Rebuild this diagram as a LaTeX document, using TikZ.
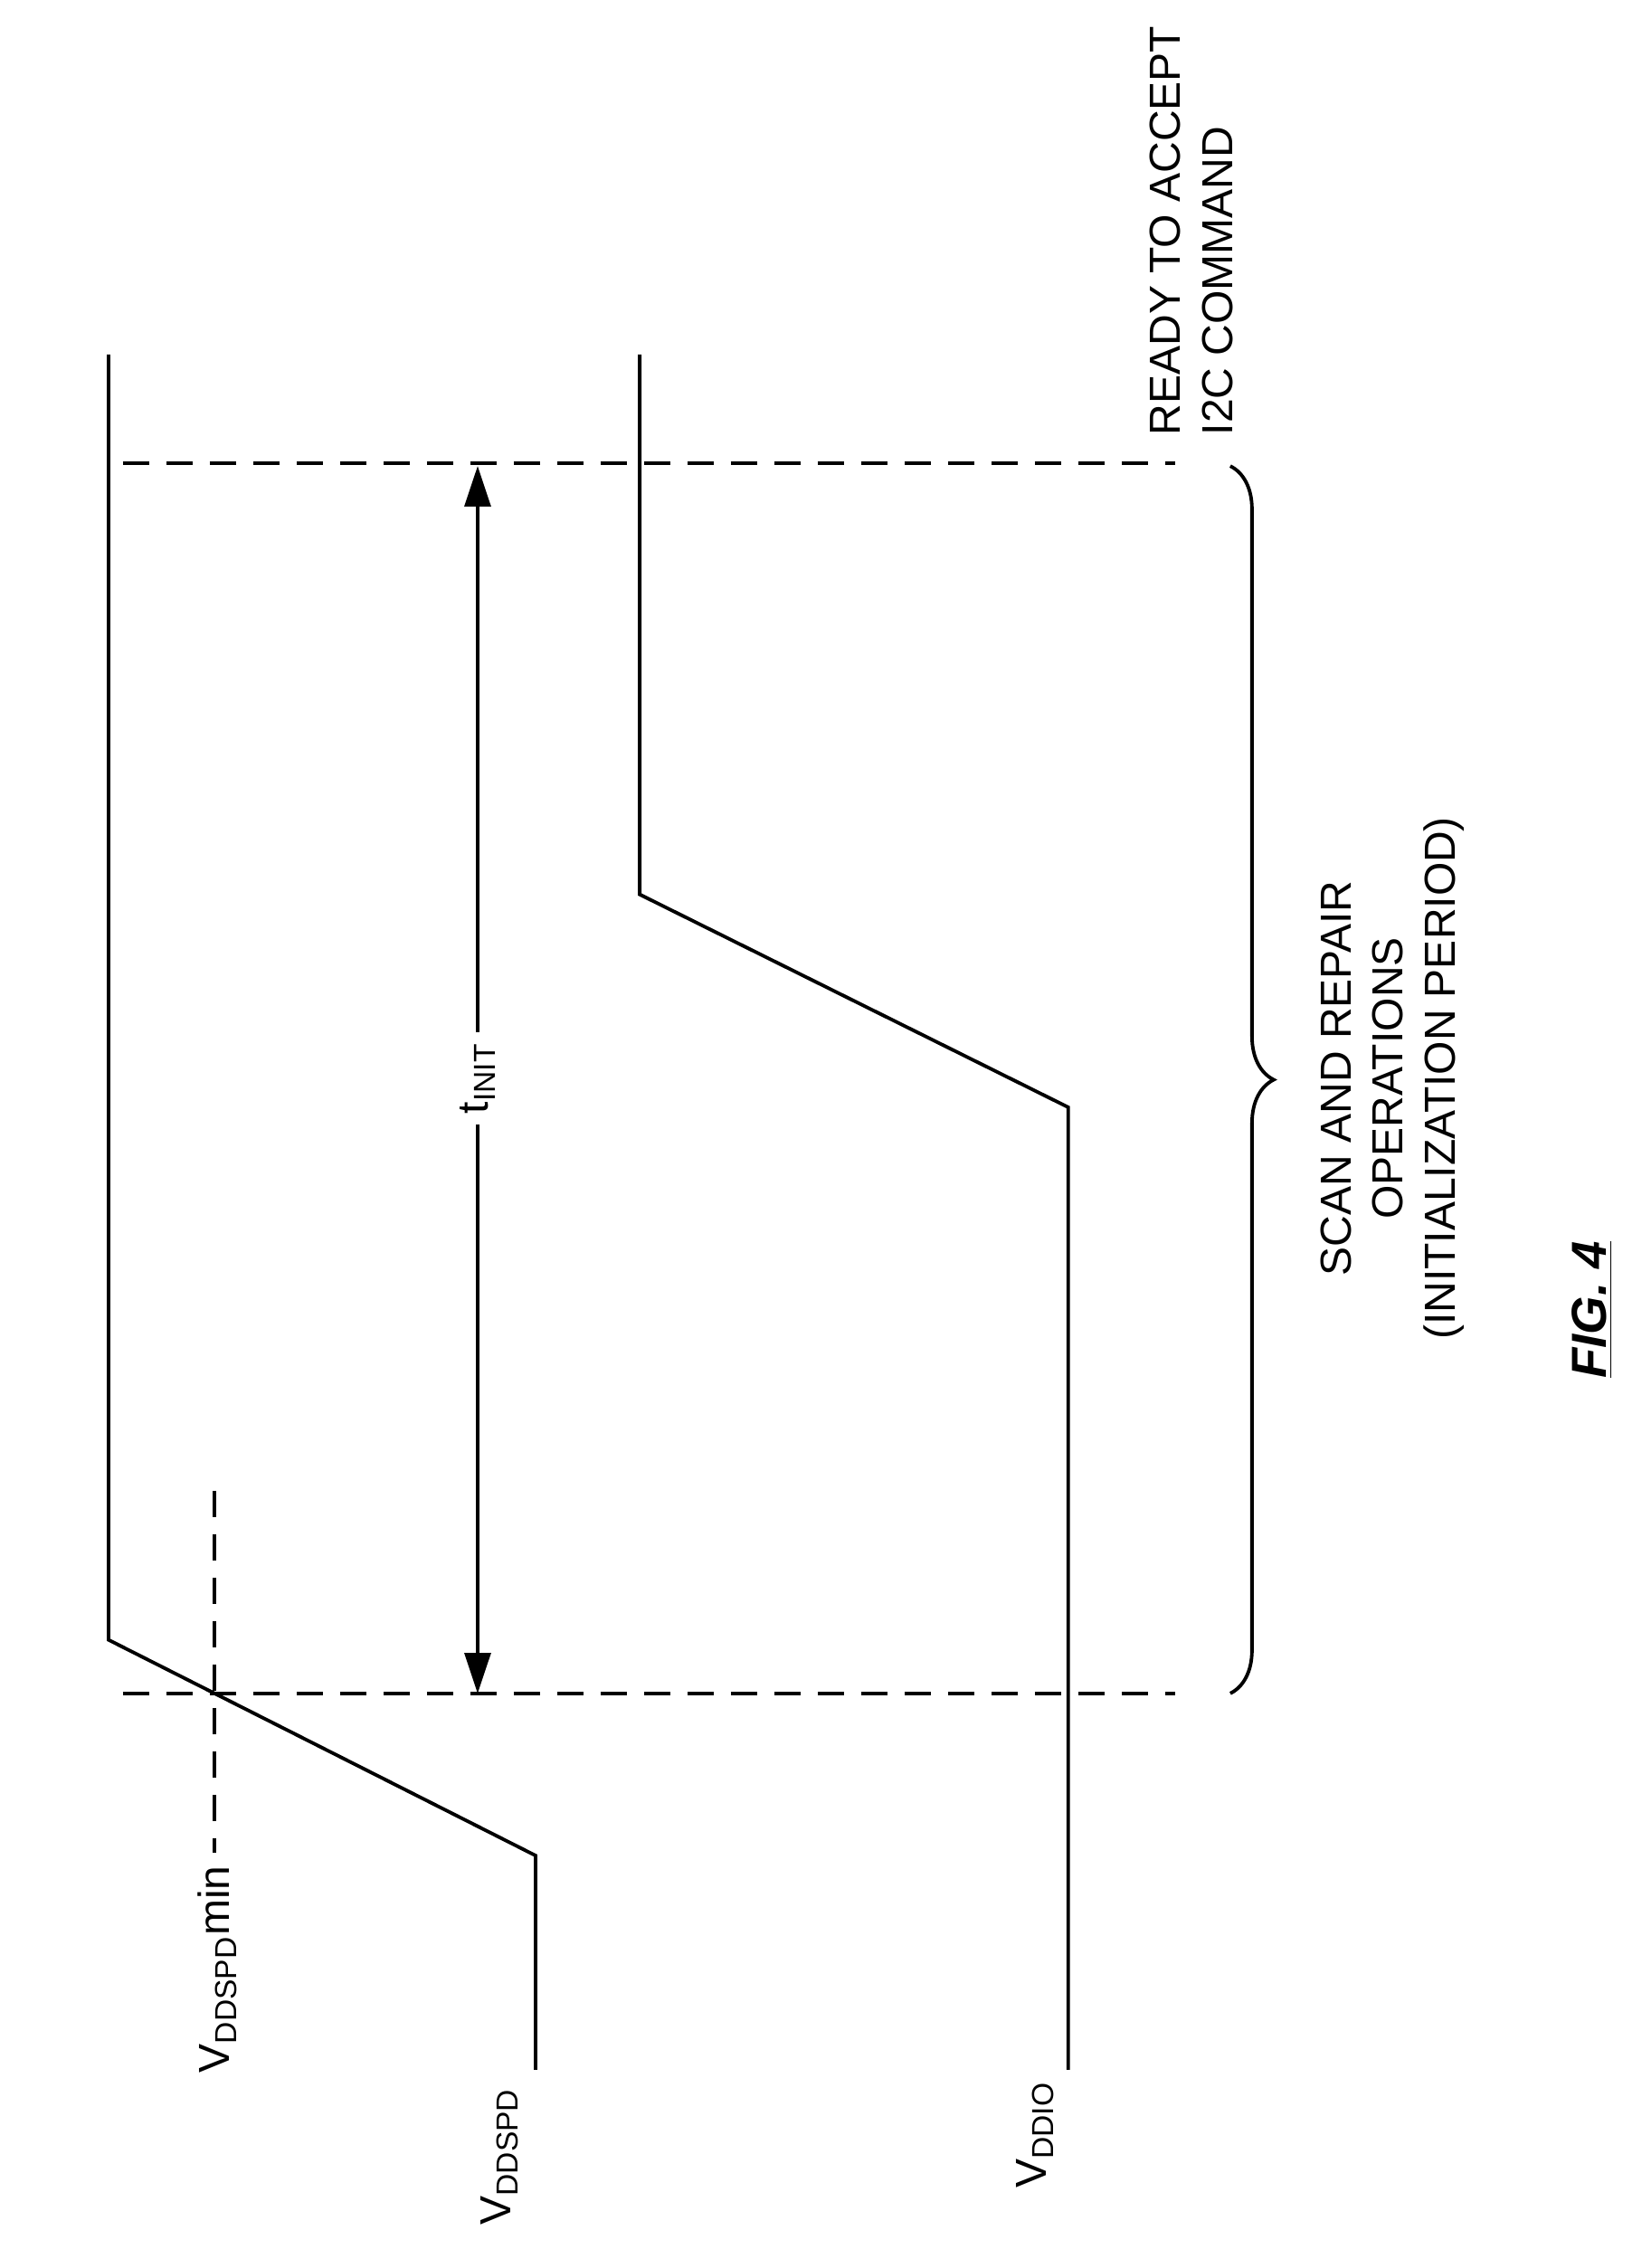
\documentclass[tikz,border=0pt]{standalone}
\usepackage{fontspec}
\setmainfont{Liberation Sans}
\usetikzlibrary{arrows.meta,decorations.pathreplacing}
\begin{document}
\begin{tikzpicture}[x=0.5pt,y=-0.5pt,line width=1.2pt,
  dsh/.style={dashed,dash pattern=on 9pt off 6pt},
  lbl/.style={rotate=90,font=\fontsize{15}{18}\selectfont,inner sep=0pt}]
\useasboundingbox (0,0) rectangle (1134,1567);
% signals
\coordinate (s0) at (370,1430); \coordinate (s1) at (370,1282);
\coordinate (s2) at (75,1133); \coordinate (s3) at (75,245);
\draw (s0)--(s1)--(s2)--(s3);
\coordinate (i0) at (738,1430); \coordinate (i1) at (738,765);
\coordinate (i2) at (442,618); \coordinate (i3) at (442,245);
\draw (i0)--(i1)--(i2)--(i3);
% dashed lines
\coordinate (d1a) at (85,1170); \coordinate (d1b) at (812,1170);
\coordinate (d2a) at (85,320); \coordinate (d2b) at (812,320);
\draw[dsh] (d1a)--(d1b);
\draw[dsh] (d2a)--(d2b);
\coordinate (m0) at (148,1030); \coordinate (m1) at (148,1280);
\draw[dsh] (m0)--(m1);
% tINIT arrow
\node[lbl,fill=white,inner sep=3pt] (t) at (330,745) {t\textsubscript{INIT}};
\coordinate (a0) at (330,322); \coordinate (a1) at (330,1170);
\draw[-{Triangle[length=14pt,width=9pt]}] (t.east)--(a0);
\draw[-{Triangle[length=14pt,width=9pt]}] (t.west)--(a1);
% brace
\coordinate (b0) at (850,322); \coordinate (b1) at (850,1170);
\draw[decorate,decoration={brace,amplitude=15pt}] (b0)--(b1);
% labels
\node[lbl,align=center] (scan) at (962,745) {SCAN AND REPAIR\\OPERATIONS\\(INITIALIZATION PERIOD)};
\node[lbl,align=left,anchor=south west] (ready) at (853,302) {READY TO ACCEPT\\I2C COMMAND};
\node[lbl,anchor=east] (vmin) at (150,1288) {V\textsubscript{DDSPD}min};
\node[lbl] (vspd) at (345,1490) {V\textsubscript{DDSPD}};
\node[lbl] (vio) at (715,1475) {V\textsubscript{DDIO}};
\node[lbl,font=\fontsize{17}{20}\selectfont\bfseries\itshape] (fig) at (1100,905) {\underline{FIG. 4}};
\end{tikzpicture}
\end{document}
